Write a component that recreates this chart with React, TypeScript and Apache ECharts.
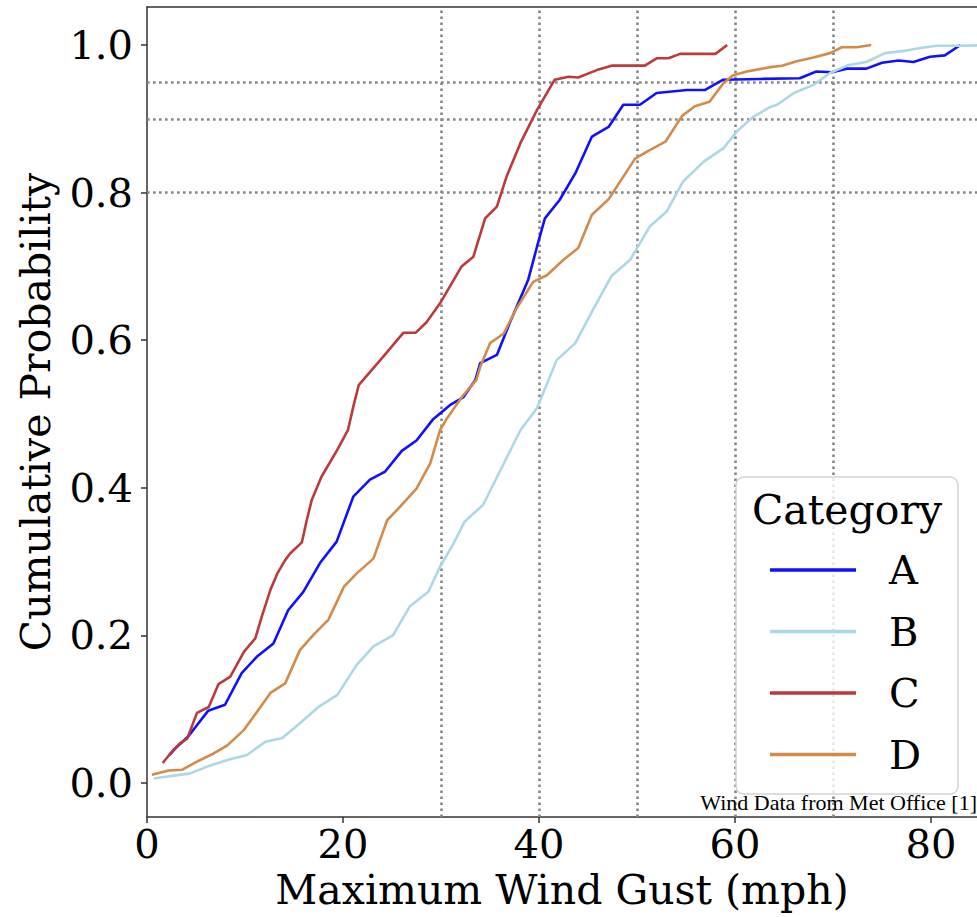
import React, { useEffect, useRef } from 'react';
import * as echarts from 'echarts';

const FONT = '"DejaVu Serif", serif';

const categories = ['A', 'B', 'C', 'D'];
const xTicks = [0, 20, 40, 60, 80];
const yTicks = [0, 0.2, 0.4, 0.6, 0.8, 1.0];
const vLines = [30, 40, 50, 60, 70];
const hLines = [0.8, 0.9, 0.95];

const seriesA: [number, number][] = [
  [2.3, 0.038], [2.9, 0.047], [4.2, 0.063], [6.25, 0.098], [7.96, 0.106], [9.66, 0.149],
  [11.2, 0.171], [12.9, 0.189], [14.4, 0.234], [15.95, 0.259], [17.65, 0.298], [19.35, 0.327],
  [21.05, 0.388], [22.75, 0.411], [24.3, 0.422], [26.0, 0.45], [27.5, 0.464], [29.2, 0.493],
  [30.9, 0.512], [32.3, 0.523], [33.5, 0.546], [34.0, 0.569], [35.7, 0.58], [37.0, 0.623],
  [38.9, 0.682], [39.8, 0.727], [40.6, 0.765], [42.1, 0.79], [43.7, 0.826], [45.4, 0.876],
  [47.1, 0.889], [48.6, 0.919], [50.3, 0.919], [52.0, 0.935], [55.1, 0.939], [56.9, 0.939],
  [58.8, 0.953], [62.6, 0.954], [66.6, 0.955], [68.3, 0.964], [69.9, 0.963], [71.4, 0.968],
  [73.4, 0.968], [75.0, 0.976], [76.7, 0.979], [78.2, 0.977], [79.9, 0.984], [81.4, 0.986],
  [83.0, 1.0],
];

const seriesB: [number, number][] = [
  [0.7, 0.006], [2.2, 0.009], [4.4, 0.013], [6.3, 0.023], [8.2, 0.031], [10.2, 0.038],
  [12.1, 0.056], [13.8, 0.061], [15.6, 0.081], [17.5, 0.103], [19.4, 0.119], [21.4, 0.16],
  [23.1, 0.185], [25.1, 0.2], [26.8, 0.239], [28.7, 0.259], [29.9, 0.293], [31.3, 0.325],
  [32.4, 0.354], [34.3, 0.377], [38.1, 0.478], [39.8, 0.508], [41.8, 0.573], [43.7, 0.596],
  [45.5, 0.641], [47.4, 0.687], [49.3, 0.709], [51.3, 0.754], [53.0, 0.774], [54.7, 0.815],
  [56.8, 0.842], [58.8, 0.86], [60.2, 0.883], [61.9, 0.903], [63.6, 0.916], [64.3, 0.919],
  [66.0, 0.935], [68.0, 0.946], [69.7, 0.962], [71.6, 0.973], [73.4, 0.977], [75.3, 0.989],
  [77.2, 0.992], [78.9, 0.996], [80.6, 0.999], [83.0, 0.999], [86.0, 1.0],
];

const seriesC: [number, number][] = [
  [1.6, 0.027], [2.7, 0.045], [3.4, 0.054], [4.1, 0.06], [5.1, 0.095], [6.3, 0.103],
  [7.3, 0.134], [8.5, 0.144], [9.9, 0.178], [11.05, 0.196], [11.7, 0.225], [12.6, 0.262],
  [13.3, 0.284], [14.1, 0.302], [14.6, 0.311], [15.8, 0.326], [16.3, 0.356], [16.8, 0.383],
  [17.8, 0.415], [19.4, 0.451], [20.5, 0.478], [21.05, 0.51], [21.6, 0.539], [23.8, 0.573],
  [26.15, 0.61], [27.4, 0.61], [28.5, 0.624], [29.9, 0.65], [32.1, 0.7], [33.3, 0.713],
  [34.5, 0.765], [35.7, 0.781], [36.7, 0.822], [38.1, 0.867], [39.8, 0.912], [41.6, 0.953],
  [43.0, 0.957], [44.0, 0.956], [45.9, 0.966], [47.4, 0.972], [50.8, 0.972], [52.0, 0.982],
  [53.2, 0.982], [54.4, 0.988], [58.0, 0.988], [59.2, 1.0],
];

const seriesD: [number, number][] = [
  [0.5, 0.011], [2.2, 0.017], [3.6, 0.018], [5.1, 0.029], [6.8, 0.04], [8.2, 0.051],
  [9.9, 0.072], [12.6, 0.122], [14.1, 0.135], [15.6, 0.18], [17.0, 0.201], [18.5, 0.221],
  [20.1, 0.266], [21.4, 0.284], [23.1, 0.304], [24.5, 0.356], [25.8, 0.374], [27.5, 0.399],
  [28.9, 0.433], [29.9, 0.478], [30.6, 0.494], [32.3, 0.526], [33.6, 0.546], [34.0, 0.564],
  [35.0, 0.596], [36.4, 0.609], [37.7, 0.643], [39.4, 0.679], [40.8, 0.688], [42.5, 0.709],
  [44.0, 0.725], [45.4, 0.77], [47.1, 0.791], [49.8, 0.846], [51.2, 0.857], [52.9, 0.869],
  [54.6, 0.904], [55.9, 0.917], [57.4, 0.923], [58.8, 0.948], [59.8, 0.959], [61.2, 0.964],
  [63.6, 0.97], [64.8, 0.972], [66.3, 0.978], [68.0, 0.983], [69.7, 0.989], [70.9, 0.997],
  [72.4, 0.997], [73.9, 1.0],
];

const seriesData = [seriesA, seriesB, seriesC, seriesD];
const colors = ['#1010ff', '#acd8e6', '#bd3a3a', '#d48b4a'];

const X_MAX = 84.69;
const Y_MIN = -0.0461;
const Y_MAX = 1.0515;
const SPINE = '#333333';

export default function App() {
  const ref = useRef<HTMLDivElement>(null);

  useEffect(() => {
    if (!ref.current) return;
    const chart = echarts.init(ref.current, null, { renderer: 'svg' });

    const lineSeries = categories.map((name, i) => ({
      name,
      type: 'line',
      data: seriesData[i],
      showSymbol: false,
      symbol: 'none',
      z: 3,
      lineStyle: { color: colors[i], width: 2.6 },
      itemStyle: { color: colors[i] },
      clip: true,
    }));

    const gridSeries = {
      name: '__grid',
      type: 'line',
      data: [],
      silent: true,
      markLine: {
        silent: true,
        symbol: 'none',
        z: 1,
        label: { show: false },
        lineStyle: { color: '#858585', width: 2.6, type: [2.6, 3.4] },
        emphasis: { disabled: true },
        data: [
          ...vLines.map((v) => ({ xAxis: v })),
          ...hLines.map((v) => ({ yAxis: v })),
        ],
      },
    };

    const option: any = {
      animation: false,
      grid: { left: 147, right: 0, top: 7, bottom: 100, containLabel: false },
      xAxis: [
        {
          type: 'value',
          min: 0,
          max: X_MAX,
          position: 'bottom',
          axisLine: { show: true, onZero: false, lineStyle: { color: SPINE, width: 1.5 } },
          axisTick: { show: true, length: 6, customValues: xTicks, lineStyle: { color: SPINE, width: 1.5 } },
          axisLabel: {
            customValues: xTicks,
            fontFamily: FONT,
            fontSize: 40,
            color: '#000',
            margin: 7,
            formatter: (v: number) => String(v),
          },
          splitLine: { show: false },
          name: 'Maximum Wind Gust (mph)',
          nameLocation: 'middle',
          nameGap: 52,
          nameTextStyle: { fontFamily: FONT, fontSize: 41, color: '#000' },
        },
        {
          type: 'value',
          min: 0,
          max: X_MAX,
          position: 'top',
          axisLine: { show: true, onZero: false, lineStyle: { color: SPINE, width: 1.5 } },
          axisTick: { show: false },
          axisLabel: { show: false },
          splitLine: { show: false },
        },
      ],
      yAxis: {
        type: 'value',
        min: Y_MIN,
        max: Y_MAX,
        axisLine: { show: true, onZero: false, lineStyle: { color: SPINE, width: 1.5 } },
        axisTick: { show: true, length: 6, customValues: yTicks, lineStyle: { color: SPINE, width: 1.5 } },
        axisLabel: {
          customValues: yTicks,
          fontFamily: FONT,
          fontSize: 40,
          color: '#000',
          margin: 14,
          formatter: (v: number) => v.toFixed(1),
        },
        splitLine: { show: false },
        name: 'Cumulative Probability',
        nameLocation: 'middle',
        nameGap: 91,
        nameTextStyle: { fontFamily: FONT, fontSize: 41, color: '#000' },
      },
      legend: {
        data: categories,
        orient: 'vertical',
        left: 765,
        top: 543,
        itemWidth: 86,
        itemHeight: 3.5,
        icon: 'rect',
        itemGap: 17.5,
        selectedMode: false,
        z: 60,
        textStyle: {
          fontFamily: FONT,
          fontSize: 40,
          lineHeight: 44,
          color: '#000',
          padding: [0, 0, 0, 28],
        },
      },
      graphic: [
        {
          type: 'rect',
          z: 50,
          silent: true,
          shape: { x: 736, y: 477, width: 222, height: 317, r: 8 },
          style: { fill: 'rgba(255,255,255,0.8)', stroke: '#d4d4d4', lineWidth: 1.5 },
        },
        {
          type: 'text',
          z: 70,
          silent: true,
          x: 752,
          y: 510,
          style: {
            text: 'Category',
            font: '41px "DejaVu Serif"',
            fill: '#000',
            align: 'left',
            verticalAlign: 'middle',
          },
        },
        {
          type: 'text',
          z: 80,
          silent: true,
          x: 977,
          y: 802,
          style: {
            text: 'Wind Data from Met Office [1]',
            font: '22px "Liberation Serif"',
            fill: '#000',
            align: 'right',
            verticalAlign: 'middle',
          },
        },
      ],
      series: [gridSeries, ...lineSeries],
    };

    chart.setOption(option);
    return () => {
      chart.dispose();
    };
  }, []);

  return (
    <div
      ref={ref}
      style={{ position: 'absolute', left: 0, top: 0, width: 977, height: 917, background: '#fff' }}
    />
  );
}
